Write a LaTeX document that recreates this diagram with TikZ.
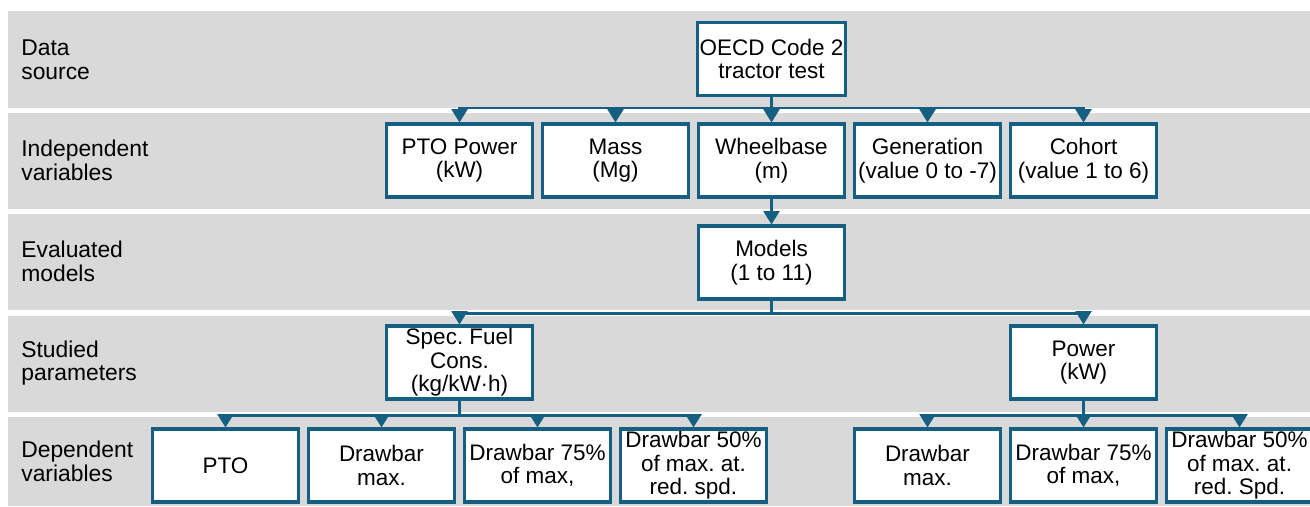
\documentclass[tikz,border=0pt]{standalone}
\usepackage{fontspec}
\setmainfont{Liberation Sans}
\usetikzlibrary{positioning,arrows.meta}
\definecolor{BoxBlue}{HTML}{156082}
\definecolor{BandGray}{HTML}{D9D9D9}
\tikzset{
  band/.style={fill=BandGray,draw=none},
  bandlabel/.style={anchor=west,align=left,inner sep=0pt,
    font=\fontsize{13}{13.4}\selectfont},
  varbox/.style={draw=BoxBlue,fill=white,line width=1.8pt,
    minimum width=2.92cm,minimum height=1.46cm,
    font=\fontsize{12.8}{13.3}\selectfont\frenchspacing,
    align=center,inner sep=1pt},
  link/.style={draw=BoxBlue,line width=1.4pt,-{Triangle[length=7.5pt,width=9pt]}},
}

\begin{document}
\begin{tikzpicture}
  \useasboundingbox (0,0) rectangle (26.2,-10.12);
  % grey bands
  \fill[band] (0.16,-0.22) rectangle (26.2,-2.16);
  \fill[band] (0.16,-2.26) rectangle (26.2,-4.18);
  \fill[band] (0.16,-4.28) rectangle (26.2,-6.20);
  \fill[band] (0.16,-6.32) rectangle (26.2,-8.24);
  \fill[band] (0.16,-8.34) rectangle (26.2,-10.12);
  \node[bandlabel] (lb1) at (0.42,-1.19) {Data\\source};
  \node[bandlabel] (lb2) at (0.42,-3.21) {Independent\\variables};
  \node[bandlabel] (lb3) at (0.42,-5.23) {Evaluated\\models};
  \node[bandlabel] (lb4) at (0.42,-7.26) {Studied\\parameters};
  \node[bandlabel] (lb5) at (0.42,-9.23) {Dependent\\variables};
  % boxes
  \node[varbox] (oecd) at (15.43,-1.18) {OECD Code 2\\tractor test};
  \node[varbox] (ptopow) at (9.19,-3.21) {PTO Power\\(kW)};
  \node[varbox] (mass) at (12.31,-3.21) {Mass\\(Mg)};
  \node[varbox] (wbase) at (15.43,-3.21) {Wheelbase\\(m)};
  \node[varbox] (gener) at (18.55,-3.21) {Generation\\(value 0 to -7)};
  \node[varbox] (cohort) at (21.67,-3.21) {Cohort\\(value 1 to 6)};
  \node[varbox] (models) at (15.43,-5.25) {Models\\(1 to 11)};
  \node[varbox] (sfc) at (9.19,-7.25) {Spec.\ Fuel\\Cons.\\(kg/kW·h)};
  \node[varbox] (power) at (21.67,-7.25) {Power\\(kW)};
  \node[varbox] (dpto) at (4.51,-9.31) {PTO};
  \node[varbox] (dmax) at (7.63,-9.31) {Drawbar\\max.};
  \node[varbox] (d75) at (10.75,-9.31) {Drawbar 75\%\\of max,};
  \node[varbox] (d50) at (13.87,-9.31) {Drawbar 50\%\\of max.\ at.\\red.\ spd.};
  \node[varbox] (pmax) at (18.55,-9.31) {Drawbar\\max.};
  \node[varbox] (p75) at (21.67,-9.31) {Drawbar 75\%\\of max,};
  \node[varbox] (p50) at (24.79,-9.31) {Drawbar 50\%\\of max.\ at.\\red.\ Spd.};
  % connectors
  \draw[link] (oecd.south) -- ++(0,-0.22) -| (ptopow.north);
  \draw[link] (oecd.south) -- ++(0,-0.22) -| (mass.north);
  \draw[link] (oecd.south) -- (wbase.north);
  \draw[link] (oecd.south) -- ++(0,-0.22) -| (gener.north);
  \draw[link] (oecd.south) -- ++(0,-0.22) -| (cohort.north);
  \draw[link] (wbase.south) -- (models.north);
  \draw[link] (models.south) -- ++(0,-0.26) -| (sfc.north);
  \draw[link] (models.south) -- ++(0,-0.26) -| (power.north);
  \draw[link] (sfc.south) -- ++(0,-0.3) -| (dpto.north);
  \draw[link] (sfc.south) -- ++(0,-0.3) -| (dmax.north);
  \draw[link] (sfc.south) -- ++(0,-0.3) -| (d75.north);
  \draw[link] (sfc.south) -- ++(0,-0.3) -| (d50.north);
  \draw[link] (power.south) -- ++(0,-0.3) -| (pmax.north);
  \draw[link] (power.south) -- (p75.north);
  \draw[link] (power.south) -- ++(0,-0.3) -| (p50.north);
\end{tikzpicture}
\end{document}
